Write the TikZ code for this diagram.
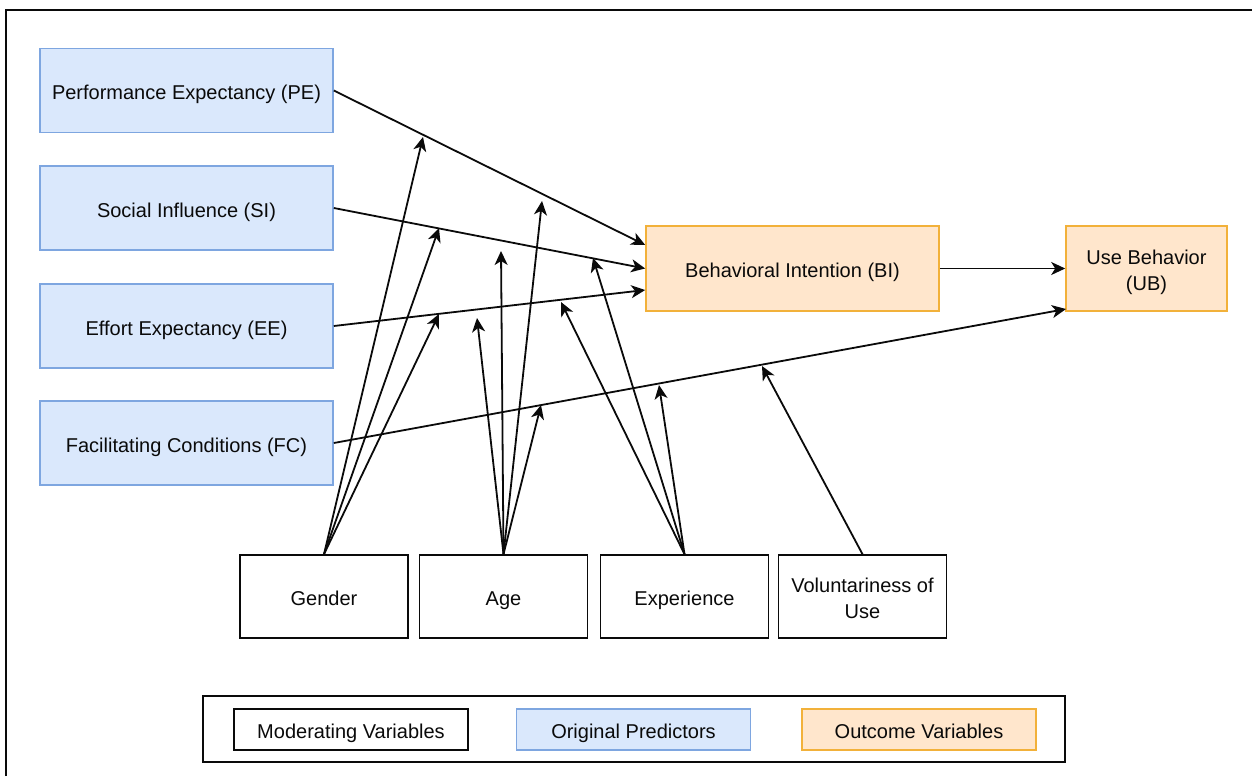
\documentclass[tikz,border=0pt]{standalone}
\usepackage{fontspec}
\setmainfont{Liberation Sans}
\usetikzlibrary{arrows.meta}
\definecolor{bluefill}{HTML}{DAE8FC}
\definecolor{blueline}{HTML}{7EA6E0}
\definecolor{orfill}{HTML}{FFE6CC}
\definecolor{orline}{HTML}{F2B13A}
\definecolor{ink}{HTML}{0A0A0A}
\tikzset{
  box/.style={rectangle, inner sep=0pt, align=center, line width=1.6pt,
    font=\fontsize{20}{26}\selectfont, text=ink, text height=18pt, text depth=0pt},
  twoline/.style={text height=43pt, text depth=0pt},
  pred/.style={box, draw=blueline, fill=bluefill, minimum width=293pt, minimum height=84pt},
  outc/.style={box, draw=orline, fill=orfill, minimum height=85pt},
  modr/.style={box, draw=ink, fill=white, minimum width=168pt, minimum height=83pt},
  legitem/.style={box, minimum width=234pt, minimum height=41pt},
  arr/.style={draw=ink, line width=1.8pt, -{Stealth[length=14pt, width=13pt, inset=4pt]}},
}
\begin{document}
\begin{tikzpicture}[x=1pt, y=-1pt]
\useasboundingbox (0,0) rectangle (1252,776);
\fill[white] (0,0) rectangle (1252,776);
% outer frame (cropped)
\draw[ink, line width=2pt] (6,776) -- (6,10) -- (1252,10);

% predictors
\node[pred] (PE) at (186.5,90.5) {Performance Expectancy (PE)};
\node[pred] (SI) at (186.5,208) {Social Influence (SI)};
\node[pred] (EE) at (186.5,326) {Effort Expectancy (EE)};
\node[pred] (FC) at (186.5,443) {Facilitating Conditions (FC)};

% outcomes
\node[outc, minimum width=293pt] (BI) at (792.5,268.5) {Behavioral Intention (BI)};
\node[outc, twoline, minimum width=161pt] (UB) at (1146.5,268.5) {Use Behavior\\(UB)};

% moderators
\node[modr] (G) at (324,596.5) {Gender};
\node[modr] (A) at (503.5,596.5) {Age};
\node[modr] (X) at (684.5,596.5) {Experience};
\node[modr, twoline] (V) at (862.5,596.5) {Voluntariness of\\Use};

% main paths
\draw[arr] (PE.east) -- (BI.west |- 0,245);
\draw[arr] (SI.east) -- (BI.west);
\draw[arr] (EE.east) -- (BI.west |- 0,290);
\draw[arr] (FC.east) -- (1066,309) coordinate (ubend);
\draw[arr] (BI.east) -- (UB.west);

% moderator end points
\coordinate (g1) at (423,137);
\coordinate (g2) at (439,228);
\coordinate (g3) at (439,314);
\coordinate (a1) at (542,201);
\coordinate (a2) at (501,251);
\coordinate (a3) at (477,318);
\coordinate (a4) at (541,405);
\coordinate (e1) at (593,258);
\coordinate (e2) at (561,302);
\coordinate (e3) at (659,385);
\coordinate (v1) at (762,366);

\foreach \t in {g1,g2,g3} \draw[arr] (G.north) -- (\t);
\foreach \t in {a1,a2,a3,a4} \draw[arr] (A.north) -- (\t);
\foreach \t in {e1,e2,e3} \draw[arr] (X.north) -- (\t);
\draw[arr] (V.north) -- (v1);

% legend
\node[draw=ink, line width=1.6pt, minimum width=862pt, minimum height=66pt, inner sep=0pt] (LEG) at (634,729) {};
\node[legitem, draw=ink, fill=white] (L1) at (351,729.5) {Moderating Variables};
\node[legitem, draw=blueline, fill=bluefill] (L2) at (633.5,729.5) {Original Predictors};
\node[legitem, draw=orline, fill=orfill] (L3) at (919,729.5) {Outcome Variables};
\end{tikzpicture}
\end{document}
